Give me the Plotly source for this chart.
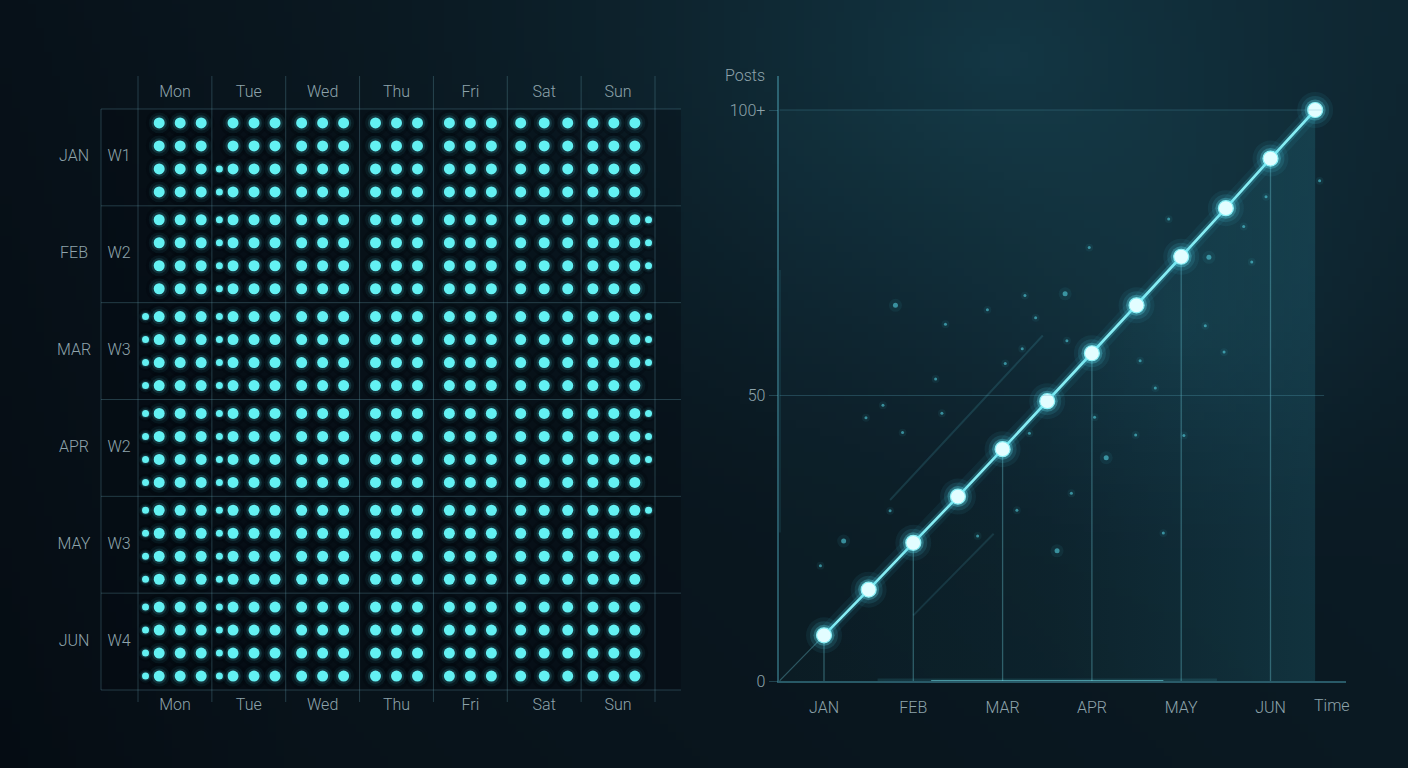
import base64, struct, zlib, math
import plotly.graph_objects as go

# ---------------- DATA ----------------
days = ["Mon", "Tue", "Wed", "Thu", "Fri", "Sat", "Sun"]
months = ["JAN", "FEB", "MAR", "APR", "MAY", "JUN"]
weeks = ["W1", "W2", "W3", "W2", "W3", "W4"]

# dots in each of the 4 rows of a cell, for Mon..Sun
jan_w1 = [[3, 3, 3, 3], [3, 3, 4, 4], [3, 3, 3, 3], [3, 3, 3, 3], [3, 3, 3, 3], [3, 3, 3, 3], [3, 3, 3, 3]]
feb_w2 = [[3, 3, 3, 3], [4, 4, 4, 4], [3, 3, 3, 3], [3, 3, 3, 3], [3, 3, 3, 3], [3, 3, 3, 3], [4, 4, 4, 3]]
mar_w3 = [[4, 4, 4, 4], [4, 4, 4, 4], [3, 3, 3, 3], [3, 3, 3, 3], [3, 3, 3, 3], [3, 3, 3, 3], [4, 4, 4, 3]]
apr_w2 = [[4, 4, 4, 4], [4, 4, 4, 4], [3, 3, 3, 3], [3, 3, 3, 3], [3, 3, 3, 3], [3, 3, 3, 3], [4, 4, 4, 3]]
may_w3 = [[4, 4, 4, 4], [4, 4, 4, 4], [3, 3, 3, 3], [3, 3, 3, 3], [3, 3, 3, 3], [3, 3, 3, 3], [4, 3, 3, 3]]
jun_w4 = [[4, 4, 4, 4], [4, 4, 4, 4], [3, 3, 3, 3], [3, 3, 3, 3], [3, 3, 3, 3], [3, 3, 3, 3], [3, 3, 3, 3]]
grid_rows = [jan_w1, feb_w2, mar_w3, apr_w2, may_w3, jun_w4]

# growth line: periods in months (0 = JAN), posts
periods = [0, 0.5, 1, 1.5, 2, 2.5, 3, 3.5, 4, 4.5, 5, 5.5]
posts = [8, 16, 24.2, 32.3, 40.6, 49, 57.4, 65.8, 74.3, 82.8, 91.5, 100]
month_ticks = [0, 1, 2, 3, 4, 5]
y_ticks = [0, 50, 100]
y_ticklabels = ["0", "50", "100+"]

# ambient particles (period, posts, intensity)
particle_x = [2.97, 2.70, 2.25, 1.83, 2.37, 0.80, 1.36, 2.72, 2.22, 2.03, 1.25, 0.66, 1.32, 0.47,
              0.88, 2.30, 0.74, 2.16, 2.77, 1.72, 0.22, 2.61, -0.04, 3.86, 4.95, 4.70, 4.31, 4.79,
              4.27, 4.48, 3.54, 3.71, 3.03, 3.49, 4.03, 3.16, 3.80, 5.55]
particle_y = [75.9, 67.8, 67.5, 65.0, 63.6, 65.8, 62.5, 59.6, 58.2, 55.6, 52.9, 48.3, 46.9, 46.1,
              43.5, 43.4, 29.8, 29.9, 32.9, 25.4, 24.5, 22.8, 20.2, 80.9, 84.8, 79.6, 74.2, 73.4,
              62.2, 57.6, 56.1, 51.3, 46.2, 43.1, 43.0, 39.1, 25.9, 87.6]
particle_i = [1, 2, 1, 1, 1, 2, 1, 1, 1, 1, 1, 1, 1, 1,
              1, 1, 1, 1, 1, 1, 2, 2, 1, 1, 1, 1, 2, 1,
              1, 1, 1, 1, 1, 1, 1, 2, 1, 1]

# ---------------- STYLE / LAYOUT ----------------
W, H = 1408, 768
FONT = "Roboto"
TXT = "#8ea4ac"
DOT = "#63f1f3"


def make_bg(w=176, h=96):
    def cl(v):
        return max(0, min(255, int(round(v))))
    rows = []
    for j in range(h):
        py = (j + 0.5) / h * H
        row = bytearray([0])
        for i in range(w):
            px = (i + 0.5) / w * W
            t = px / W
            r, g, b = 9 + 3 * t, 21 + 9 * t, 29 + 11 * t
            d = math.hypot((px - 1000) / 720, (py - 60) / 520)
            f = max(0.0, 1 - d) ** 1.5
            r += 8 * f; g += 28 * f; b += 32 * f
            d2 = math.hypot((px - 1180) / 380, (py - 330) / 320)
            f2 = max(0.0, 1 - d2) ** 2
            r += 4 * f2; g += 12 * f2; b += 14 * f2
            v = py / H
            r -= 2 * v; g -= 5 * v; b -= 6 * v
            dl = max(0.0, 1 - px / 300)
            r -= 2 * dl; g -= 4 * dl; b -= 4 * dl
            row += bytes([cl(r), cl(g), cl(b)])
        rows.append(bytes(row))
    raw = b"".join(rows)

    def chunk(tag, data):
        return struct.pack(">I", len(data)) + tag + data + struct.pack(">I", zlib.crc32(tag + data) & 0xffffffff)
    png = (b"\x89PNG\r\n\x1a\n" + chunk(b"IHDR", struct.pack(">IIBBBBB", w, h, 8, 2, 0, 0, 0))
           + chunk(b"IDAT", zlib.compress(raw, 9)) + chunk(b"IEND", b""))
    return "data:image/png;base64," + base64.b64encode(png).decode()


fig = go.Figure()

# ---- left grid axes geometry (pixels) ----
gx0, gx1 = 138, 655       # day columns
gy0, gy1 = 109, 690       # month rows
ppx = (gx1 - gx0) / 7.0
ppy = (gy1 - gy0) / 6.0
ax_l, ax_r, ax_t, ax_b = 40, 690, 60, 720


def ux(px):
    return (px - gx0) / ppx


def uy(py):
    return (py - gy0) / ppy


sx = 21 / ppx
sy = 23 / ppy
side = [-1, -1, 0, 0, 0, 0, 1]

big_x, big_y, small_x, small_y = [], [], [], []
for r, row in enumerate(grid_rows):
    for j, cell in enumerate(row):
        cx = j + 0.5
        for i, n in enumerate(cell):
            yy = r + 0.5 + (i - 1.5) * sy
            if side[j] == -1:
                offs = [-0.75, 0.25, 1.25]
                soff = -1.4
            elif side[j] == 1:
                offs = [-1.2, -0.2, 0.8]
                soff = 1.45
            else:
                offs = [-1.0, 0.0, 1.0] if j != 5 else [-1.12, 0.0, 1.12]
                soff = None
            for o in offs:
                big_x.append(cx + o * sx); big_y.append(yy)
            if n > 3 and soff is not None:
                small_x.append(cx + soff * sx); small_y.append(yy)

shapes = []
lc = "rgba(100,160,175,0.32)"
# darker grid backdrop
shapes.append(dict(type="rect", xref="x", yref="y", x0=ux(101), x1=ux(681), y0=0, y1=6,
                   fillcolor="rgba(2,8,12,0.30)", line_width=0, layer="below"))
for j in range(8):
    shapes.append(dict(type="line", xref="x", yref="y", x0=j, x1=j, y0=uy(76), y1=uy(702),
                       line=dict(color=lc, width=1)))
shapes.append(dict(type="line", xref="x", yref="y", x0=ux(101), x1=ux(101), y0=0, y1=6,
                   line=dict(color=lc, width=1)))
for r in range(7):
    shapes.append(dict(type="line", xref="x", yref="y", x0=ux(101), x1=ux(681), y0=r, y1=r,
                       line=dict(color=lc, width=1)))

# dots: soft shadow, soft glow, core
for xs, ys, core in [(big_x, big_y, 11), (small_x, small_y, 7)]:
    fig.add_trace(go.Scatter(x=xs, y=ys, mode="markers", hoverinfo="skip", showlegend=False,
                             marker=dict(size=core * 2.4, color="rgba(1,6,10,0.22)", line_width=0)))
    fig.add_trace(go.Scatter(x=xs, y=ys, mode="markers", hoverinfo="skip", showlegend=False,
                             marker=dict(size=core * 1.9, color="rgba(80,225,240,0.06)", line_width=0)))
    fig.add_trace(go.Scatter(x=xs, y=ys, mode="markers", hoverinfo="skip", showlegend=False,
                             marker=dict(size=core * 1.4, color="rgba(90,235,245,0.14)", line_width=0)))
    fig.add_trace(go.Scatter(x=xs, y=ys, mode="markers", hoverinfo="skip", showlegend=False,
                             marker=dict(size=core, color=DOT, line_width=0)))

# labels of grid
tf = dict(family=FONT, size=16, color=TXT, weight=300)
fig.add_trace(go.Scatter(x=[j + 0.5 for j in range(7)], y=[uy(93)] * 7, mode="text", text=days,
                         textfont=tf, hoverinfo="skip", showlegend=False))
fig.add_trace(go.Scatter(x=[j + 0.5 for j in range(7)], y=[uy(706)] * 7, mode="text", text=days,
                         textfont=tf, hoverinfo="skip", showlegend=False))
fig.add_trace(go.Scatter(x=[ux(74)] * 6, y=[r + 0.5 for r in range(6)], mode="text", text=months,
                         textfont=tf, hoverinfo="skip", showlegend=False))
fig.add_trace(go.Scatter(x=[ux(119)] * 6, y=[r + 0.5 for r in range(6)], mode="text", text=weeks,
                         textfont=tf, hoverinfo="skip", showlegend=False))

# ---- right chart geometry ----
x_px0, x_ppu = 824, 89.3
y_px0, y_ppu = 681, 5.71
xr = [-0.5, 5.85]
yr = [0, (681 - 76) / y_ppu]
dom_x = [(x_px0 + xr[0] * x_ppu) / W, (x_px0 + xr[1] * x_ppu) / W]
dom_y = [(H - 681) / H, (H - 76) / H]
ax_x = xr[0] - 0.02

# shaded panel
shapes.append(dict(type="rect", xref="x2", yref="y2", x0=xr[0], x1=periods[-1], y0=0, y1=posts[-1],
                   fillcolor="rgba(70,180,200,0.04)", line_width=0, layer="below"))
# horizontal guides
for v in [50, 100]:
    shapes.append(dict(type="line", xref="x2", yref="y2", x0=xr[0], x1=5.6, y0=v, y1=v,
                       line=dict(color="rgba(90,170,190,0.28)", width=1)))
# axis glows
shapes.append(dict(type="line", xref="x2", yref="y2", x0=ax_x, x1=ax_x, y0=26, y1=72,
                   line=dict(color="rgba(80,220,240,0.16)", width=6)))
shapes.append(dict(type="line", xref="x2", yref="y2", x0=ax_x, x1=ax_x, y0=32, y1=66,
                   line=dict(color="rgba(120,235,245,0.75)", width=1.8)))
shapes.append(dict(type="line", xref="x2", yref="y2", x0=0.6, x1=4.4, y0=0, y1=0,
                   line=dict(color="rgba(80,220,240,0.12)", width=5)))
shapes.append(dict(type="line", xref="x2", yref="y2", x0=1.2, x1=3.8, y0=0, y1=0,
                   line=dict(color="rgba(120,235,245,0.7)", width=1.6)))
# faint streaks parallel to the line
shapes.append(dict(type="line", xref="x2", yref="y2", x0=0.74, x1=2.45, y0=31.7, y1=60.5,
                   line=dict(color="rgba(90,200,220,0.16)", width=2)))
shapes.append(dict(type="line", xref="x2", yref="y2", x0=1.0, x1=1.9, y0=11.5, y1=25.8,
                   line=dict(color="rgba(90,200,220,0.14)", width=2)))

# fill beneath the line
fig.add_trace(go.Scatter(x=[xr[0]] + periods, y=[0] + posts, xaxis="x2", yaxis="y2", mode="none",
                         fill="tozeroy", hoverinfo="skip", showlegend=False,
                         fillgradient=dict(type="horizontal",
                                           colorscale=[[0, "rgba(40,150,175,0.0)"],
                                                       [0.5, "rgba(40,150,175,0.04)"],
                                                       [1, "rgba(50,170,195,0.14)"]])))

# drop lines from monthly points
dx, dy = [], []
for p, v in zip(periods, posts):
    if p in month_ticks:
        dx += [p, p, None]; dy += [v, 0, None]
fig.add_trace(go.Scatter(x=dx, y=dy, xaxis="x2", yaxis="y2", mode="lines", hoverinfo="skip",
                         showlegend=False, line=dict(color="rgba(110,205,220,0.36)", width=1.3)))

# particles
psz = [3 if k == 1 else 5 for k in particle_i]
fig.add_trace(go.Scatter(x=particle_x, y=particle_y, xaxis="x2", yaxis="y2", mode="markers",
                         hoverinfo="skip", showlegend=False,
                         marker=dict(size=[s * 2.6 for s in psz], color="rgba(70,210,230,0.10)", line_width=0)))
fig.add_trace(go.Scatter(x=particle_x, y=particle_y, xaxis="x2", yaxis="y2", mode="markers",
                         hoverinfo="skip", showlegend=False,
                         marker=dict(size=psz, color="rgba(90,220,235,0.8)", line_width=0)))

# faint lead-in from origin
fig.add_trace(go.Scatter(x=[xr[0], periods[0]], y=[0, posts[0]], xaxis="x2", yaxis="y2", mode="lines",
                         hoverinfo="skip", showlegend=False,
                         line=dict(color="rgba(110,200,215,0.35)", width=1.2)))
# line glow + line
for wdt, col in [(16, "rgba(60,200,230,0.07)"), (7, "rgba(80,220,240,0.20)"), (2.6, "#86ecf3")]:
    fig.add_trace(go.Scatter(x=periods, y=posts, xaxis="x2", yaxis="y2", mode="lines", hoverinfo="skip",
                             showlegend=False, line=dict(color=col, width=wdt)))
# markers with soft glow
for sz, col in [(36, "rgba(70,215,240,0.07)"), (28, "rgba(80,225,245,0.12)"),
                (21, "rgba(100,235,248,0.28)")]:
    fig.add_trace(go.Scatter(x=periods, y=posts, xaxis="x2", yaxis="y2", mode="markers", hoverinfo="skip",
                             showlegend=False, marker=dict(size=sz, color=col, line_width=0)))
fig.add_trace(go.Scatter(x=periods, y=posts, xaxis="x2", yaxis="y2", mode="markers", showlegend=False,
                         marker=dict(size=15, color="#e2fdff", line=dict(color="#8cf1f7", width=1.2))))

lf = dict(family=FONT, size=16, color=TXT, weight=300)
fig.update_layout(
    template="none",
    width=W, height=H, margin=dict(l=0, r=0, t=0, b=0, pad=0), autosize=False,
    paper_bgcolor="#0a1820", plot_bgcolor="rgba(0,0,0,0)",
    font=dict(family=FONT, color=TXT, size=15),
    showlegend=False,
    shapes=shapes,
    images=[dict(source=make_bg(), xref="paper", yref="paper", x=0, y=1, sizex=1, sizey=1,
                 sizing="stretch", layer="below", xanchor="left", yanchor="top")],
    xaxis=dict(domain=[ax_l / W, ax_r / W], range=[ux(ax_l), ux(ax_r)], visible=False, fixedrange=True,
               automargin=False),
    yaxis=dict(domain=[(H - ax_b) / H, (H - ax_t) / H], range=[uy(ax_b), uy(ax_t)], visible=False,
               fixedrange=True, automargin=False),
    xaxis2=dict(domain=dom_x, range=xr, anchor="y2", showgrid=False, zeroline=False, showline=True,
                linecolor="rgba(80,170,190,0.45)", linewidth=1.5, tickvals=month_ticks, ticktext=months,
                ticks="outside", ticklen=11, tickcolor="rgba(0,0,0,0)", automargin=False,
                tickfont=lf),
    yaxis2=dict(domain=dom_y, range=yr, anchor="x2", showgrid=False, zeroline=False, showline=True,
                linecolor="rgba(80,170,190,0.45)", linewidth=1.5, tickvals=y_ticks, ticktext=y_ticklabels,
                ticks="outside", ticklen=9, tickcolor="rgba(90,170,190,0.3)", automargin=False,
                tickfont=lf),
    annotations=[
        dict(text="Posts", xref="paper", yref="paper", x=745 / W, y=(H - 75) / H, showarrow=False,
             xanchor="center", yanchor="middle", font=lf),
        dict(text="Time", xref="x2", yref="paper", x=(1332 - x_px0) / x_ppu, y=(H - 705) / H,
             showarrow=False, xanchor="center", yanchor="middle", font=lf),
    ],
)

fig.write_html("out.html")
